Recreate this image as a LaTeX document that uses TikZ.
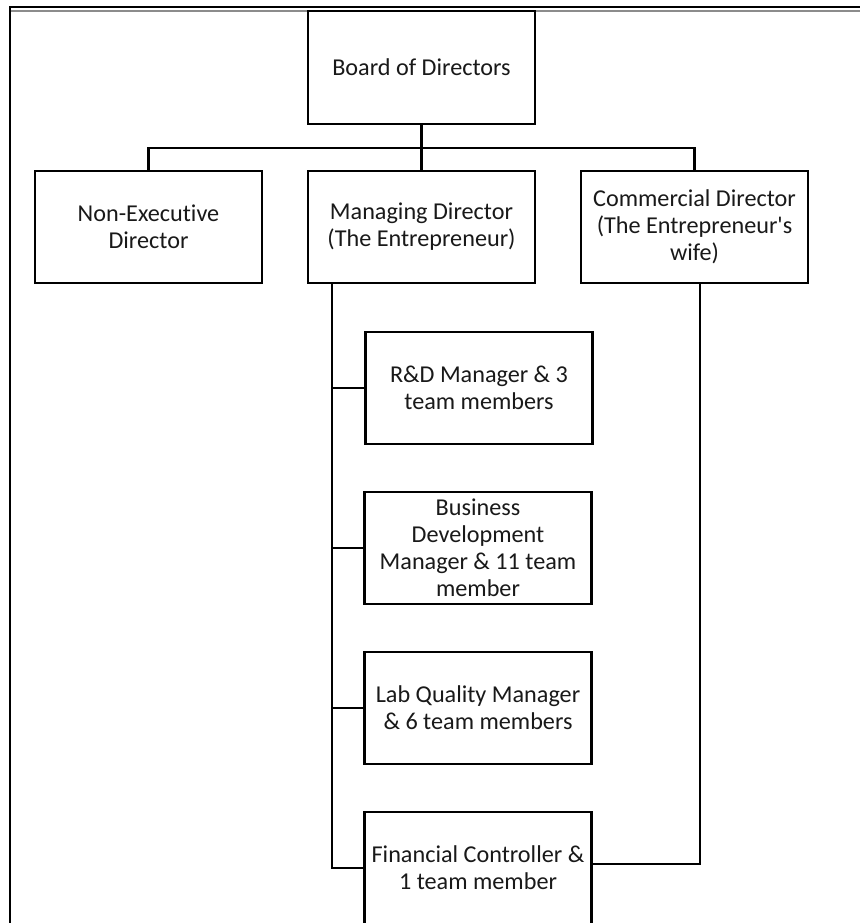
\documentclass[tikz,border=0pt]{standalone}
\usepackage{fontspec}
\setmainfont[Ligatures=NoCommon]{Carlito}
\begin{document}
\begin{tikzpicture}[x=1pt,y=-1pt,
  orgbox/.style={draw=black, line width=2.6pt, fill=white, minimum width=227pt,
    minimum height=112pt, inner sep=0pt, align=center, text=black!90,
    font=\fontsize{24.2}{27}\selectfont},
  conn/.style={draw=black, line width=2.2pt},
  thinconn/.style={draw=black, line width=1.4pt}]
\useasboundingbox (0,0) rectangle (859,923);

% page frame
\draw[black, line width=2pt] (9.5,923) -- (9.5,7.5) -- (860,7.5);
\draw[black!45, line width=1.3pt] (10.5,11) -- (860,11);

% boxes
\node[orgbox, minimum height=113pt] (board) at (421.5,67.5) {Board of Directors};
\node[orgbox] (nonexec) at (148.5,227) {Non-Executive\\Director};
\node[orgbox] (managing) at (421.5,227) {Managing Director\\(The Entrepreneur)};
\node[orgbox] (commercial) at (694.5,227) {Commercial Director\\(The Entrepreneur\textquotesingle s\\wife)};
\node[orgbox] (rd) at (479,388) {R\&D Manager \& 3\\team members};
\node[orgbox] (bizdev) at (478,548) {Business\\Development\\Manager \& 11 team\\member};
\node[orgbox] (lab) at (478,708) {Lab Quality Manager\\\& 6 team members};
\node[orgbox] (fin) at (478,868) {Financial Controller \&\\1 team member};

% board to directors
\coordinate (bus) at (421.5,148);
\draw[conn] (board.south) -- (bus);
\draw[conn] (nonexec.north) |- (bus) -| (commercial.north);
\draw[conn] (bus) -- (managing.north);

% managing director spine
\coordinate (mtop) at (332,283);
\draw[conn] (mtop) |- (fin.west);
\draw[conn] (mtop |- rd.west) -- (rd.west);
\draw[conn] (mtop |- bizdev.west) -- (bizdev.west);
\draw[conn] (mtop |- lab.west) -- (lab.west);

% commercial director to financial controller
\coordinate (ctop) at (700,283);
\coordinate (cbot) at (700,864);
\draw[thinconn] (ctop) -- (cbot) -- (cbot -| fin.east);
\end{tikzpicture}
\end{document}
